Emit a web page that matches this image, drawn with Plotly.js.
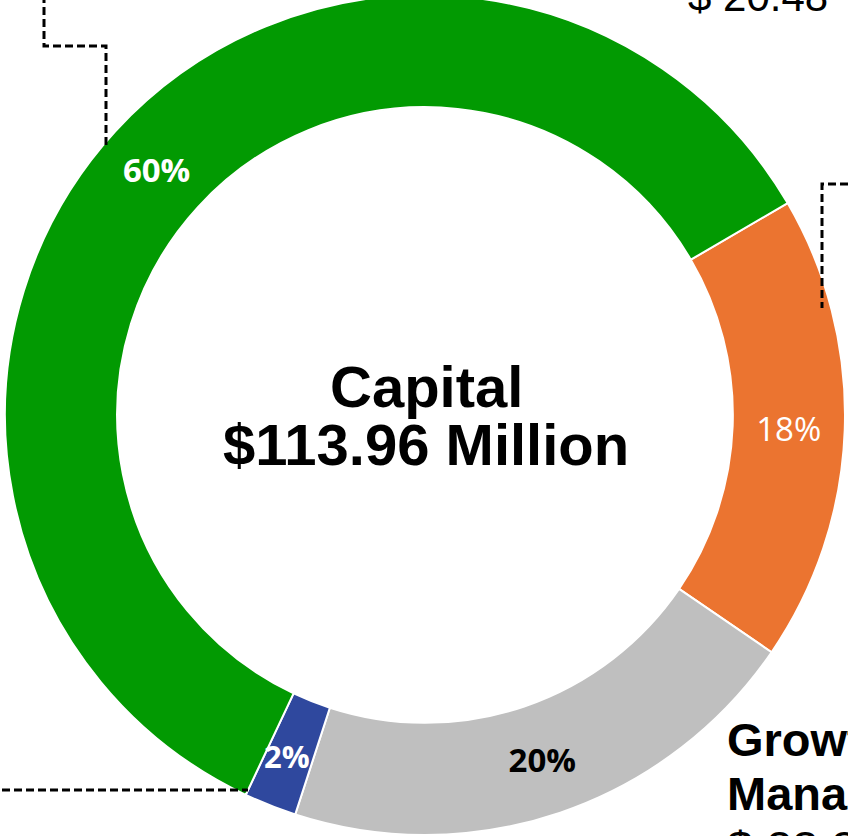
<!DOCTYPE html>
<html>
<head>
<meta charset="utf-8">
<script src="https://cdn.plot.ly/plotly-3.0.1.min.js"></script>
<style>
html,body{margin:0;padding:0;width:848px;height:836px;overflow:hidden;background:#fff;}
#chart{position:absolute;left:0;top:-50px;width:900px;height:900px;}
</style>
</head>
<body>
<div id="chart"></div>
<script>
// Data
const categories = ["Orange segment", "Growth Management", "Blue segment", "Green segment"];
const values = [20.48, 23.30, 2.30, 67.88];           // $ Million
const colors = ["#EB7430", "#BFBFBF", "#2F489E", "#029A02"];
const textColors = ["#FFFFFF", "#000000", "#FFFFFF", "#FFFFFF"];
const textWeights = ["normal", "bold", "bold", "bold"];
const centerTitle = "Capital";
const centerTotal = "$113.96 Million";
const orangeLabel = "$ 20.48";
const greyLabelLines = ["Growth", "Management", "$ 23.30"];

// geometry settings
const W = 900, H = 900, TOP = -50;
const ROT = 59.7, HOLE = 0.733, R = 420, CX = 425, CY = 415;
const px = x => x / W;
const py = y => (H - (y - TOP)) / H;

// blue slice label (small slice, drawn as annotation so it is not shrunk)
const total = values.reduce((a, b) => a + b, 0);
const blueIdx = 2;
const before = values.slice(0, blueIdx).reduce((a, b) => a + b, 0);
const midDeg = ROT + (before + values[blueIdx] / 2) / total * 360;
const rMid = R * (1 + HOLE) / 2;
const blueX = CX + rMid * Math.sin(midDeg * Math.PI / 180) - 4;
const blueY = CY - rMid * Math.cos(midDeg * Math.PI / 180) + 3;
const bluePct = Math.round(values[blueIdx] / total * 100) + "%";

const trace = {
  type: "pie",
  labels: categories,
  values: values,
  sort: false,
  direction: "clockwise",
  rotation: ROT,
  hole: HOLE,
  domain: {x: [(CX - R) / W, (CX + R) / W], y: [py(CY + R), py(CY - R)]},
  marker: {colors: colors, line: {color: "#FFFFFF", width: 2}},
  texttemplate: ["%{percent:.0%}", "%{percent:.0%}", "", "%{percent:.0%}"],
  textposition: "inside",
  insidetextorientation: "horizontal",
  textfont: {family: "Open Sans, Arial, sans-serif", size: 33, color: textColors, weight: textWeights},
  hoverinfo: "label+value+percent",
  showlegend: false
};

function dashed(pts) {
  let d = "M" + pts.map(p => px(p[0]) + "," + py(p[1])).join(" L");
  return {type: "path", xref: "paper", yref: "paper", path: d,
          line: {color: "#000", width: 3, dash: "8px,4px"}};
}

const F = "Liberation Sans, Arial, sans-serif";
function txt(t, x, y, size, xanchor, bold) {
  return {text: bold ? "<b>" + t + "</b>" : t, x: px(x), y: py(y), xref: "paper", yref: "paper",
          showarrow: false, xanchor: xanchor, yanchor: "middle",
          font: {family: F, size: size, color: "#000"}};
}

const layout = {
  width: W, height: H,
  margin: {l: 0, r: 0, t: 0, b: 0},
  paper_bgcolor: "#fff",
  showlegend: false,
  shapes: [
    dashed([[44, -5], [44, 46], [106, 46], [106, 145]]),
    dashed([[860, 184], [822, 184], [822, 308]]),
    dashed([[-10, 790], [248, 790]])
  ],
  annotations: [
    txt(centerTitle, 426, 386, 58, "center", true),
    txt(centerTotal, 426, 444, 58, "center", true),
    txt(orangeLabel, 686, -3, 42, "left", false),
    txt(greyLabelLines[0], 725, 739, 47, "left", true),
    txt(greyLabelLines[1], 725, 793, 47, "left", true),
    txt(greyLabelLines[2], 725, 847, 47, "left", false),
    {text: "<b>" + bluePct + "</b>", x: px(blueX), y: py(blueY), xref: "paper", yref: "paper",
     showarrow: false, xanchor: "center", yanchor: "middle",
     font: {family: "Open Sans, Arial, sans-serif", size: 31, color: "#FFFFFF"}}
  ]
};

Plotly.newPlot("chart", [trace], layout, {displayModeBar: false, staticPlot: true});
</script>
</body>
</html>
